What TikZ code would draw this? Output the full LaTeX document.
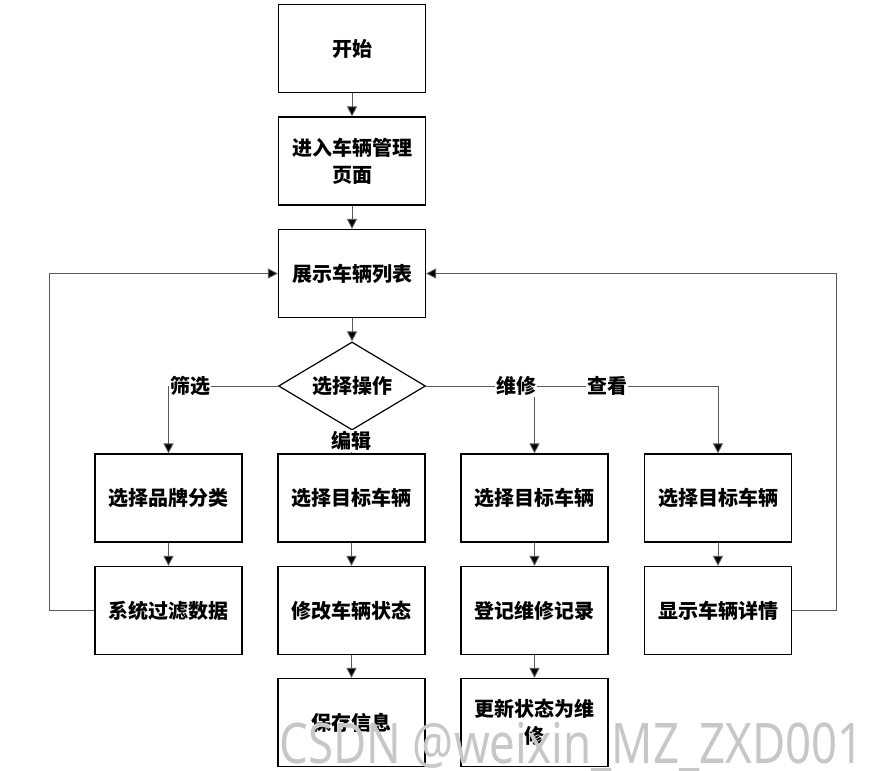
\documentclass[tikz,border=0pt]{standalone}
\usepackage{fontspec}
\setmainfont{Noto Sans CJK SC}
\newfontfamily\markfont{Noto Sans}
\usepackage{tikz}
\usetikzlibrary{arrows.meta,positioning,shapes.geometric}
\tikzset{
  box/.style={draw,line width=1.2bp,minimum width=147bp,minimum height=88bp,
    text width=135bp,align=center,inner sep=0pt},
  decision/.style={draw,diamond,line width=1.2bp,aspect=1.67,
    minimum width=147bp,minimum height=88bp,inner sep=0pt},
  tag/.style={fill=white,inner sep=1bp},
  every node/.style={font=\bfseries\fontsize{20bp}{27bp}\selectfont}
}
\tikzstyle{arrow} = [draw=black!65,line width=0.9bp,-{Triangle[length=10bp,width=10bp,fill=black]}]

\begin{document}
\begin{tikzpicture}[x=1bp,y=-1bp]
  \useasboundingbox (0,0) rectangle (872,771);
  % main column
  \node[box] (start) at (352,48.5) {开始};
  \node[box] (enter) at (352,161) {进入车辆管理\\页面};
  \node[box] (list) at (352,273.5) {展示车辆列表};
  \node[decision] (op) at (352,386) {选择操作};
  % branches
  \node[box] (brand) at (168.5,498) {选择品牌分类};
  \node[box] (filter) at (168.5,610.5) {系统过滤数据};
  \node[box] (pickedit) at (351.5,498) {选择目标车辆};
  \node[box] (modify) at (351.5,610.5) {修改车辆状态};
  \node[box] (save) at (351.5,722.5) {保存信息};
  \node[box] (pickfix) at (534.5,498) {选择目标车辆};
  \node[box] (record) at (534.5,610.5) {登记维修记录};
  \node[box] (update) at (534.5,722.5) {更新状态为维\\修};
  \node[box] (pickview) at (718,498) {选择目标车辆};
  \node[box] (detail) at (718,610.5) {显示车辆详情};
  % connectors
  \draw[arrow] (start) -- (enter);
  \draw[arrow] (enter) -- (list);
  \draw[arrow] (list) -- (op);
  \draw[arrow] (op.west) -| (brand.north);
  \draw[arrow] (op.south) -- (pickedit.north);
  \draw[arrow] (op.east) -| (pickfix.north);
  \draw[arrow] (op.east) -| (pickview.north);
  \draw[arrow] (brand) -- (filter);
  \draw[arrow] (pickedit) -- (modify);
  \draw[arrow] (modify) -- (save);
  \draw[arrow] (pickfix) -- (record);
  \draw[arrow] (record) -- (update);
  \draw[arrow] (pickview) -- (detail);
  \draw[arrow] (filter.west) -- ++(-45,0) |- (list.west);
  \draw[arrow] (detail.east) -- ++(44,0) |- (list.east);
  % branch labels
  \node[tag] (lblfilter) at (190,386) {筛选};
  \node[tag] (lbledit) at (351.5,441) {编辑};
  \node[tag] (lblfix) at (516,386) {维修};
  \node[tag] (lblview) at (607,386) {查看};
  % watermark
  \node[anchor=base west,inner sep=0pt,text=black!22,
    font=\markfont\fontsize{56bp}{56bp}\selectfont] (mark) at (279,763)
    {\scalebox{0.815}[1]{CSDN @weixin\_MZ\_ZXD001}};
\end{tikzpicture}
\end{document}
